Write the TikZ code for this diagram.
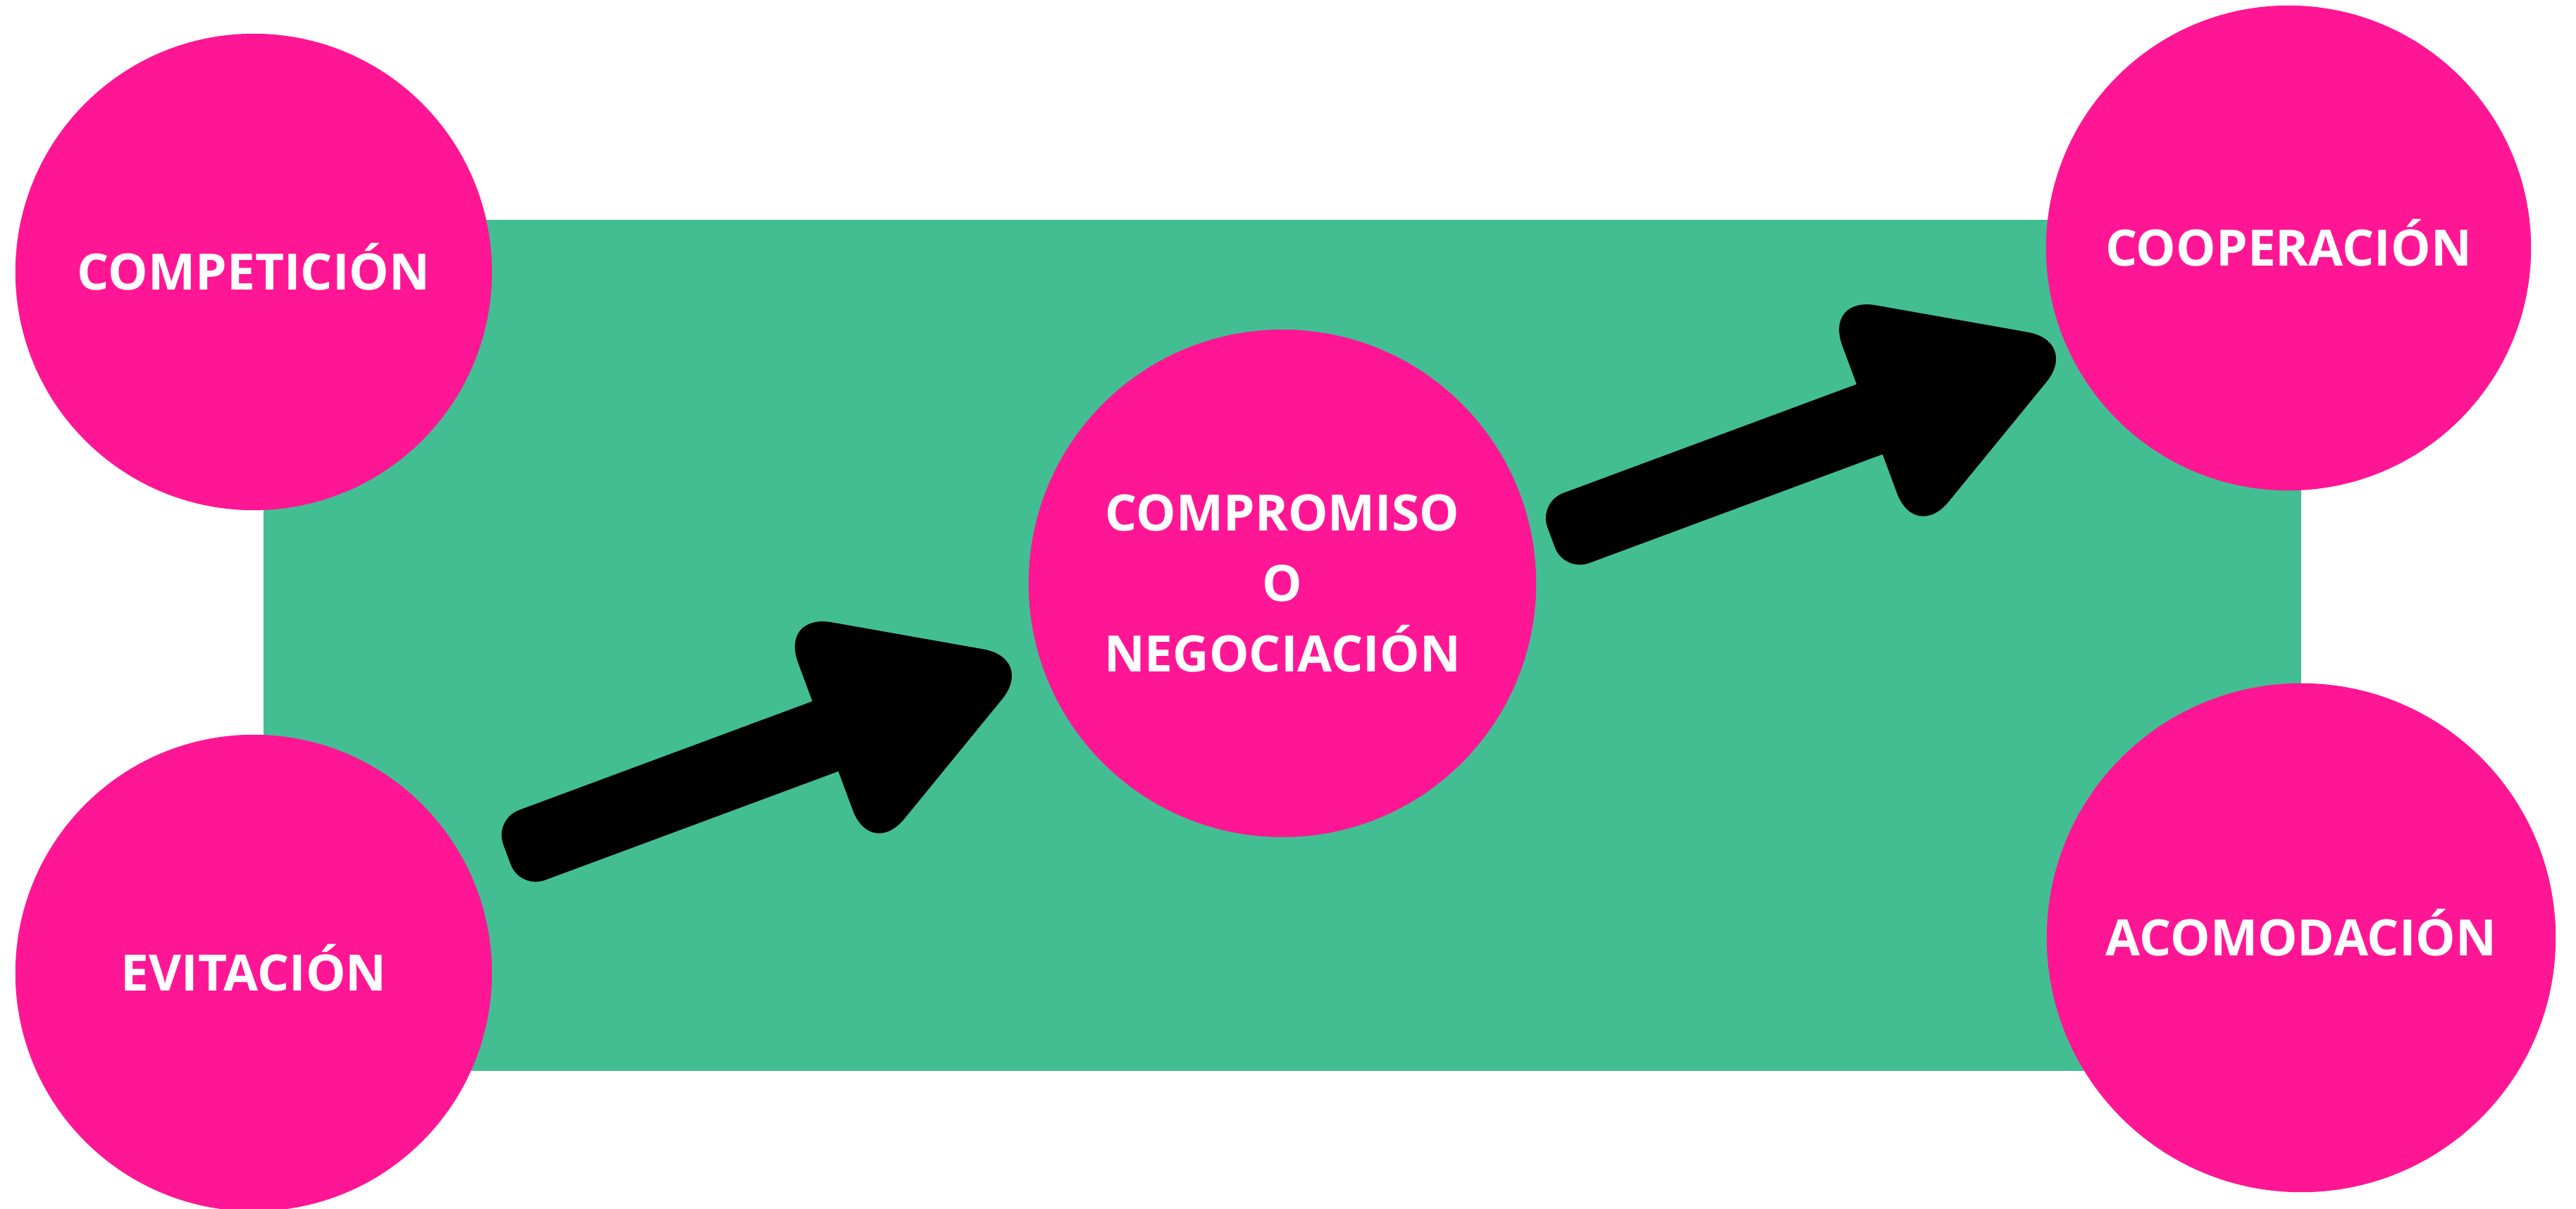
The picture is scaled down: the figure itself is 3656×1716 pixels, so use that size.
\documentclass[tikz,border=0pt]{standalone}
\usepackage{fontspec}
\setmainfont{Open Sans}
\definecolor{pinkc}{RGB}{255,22,148}
\definecolor{greenc}{RGB}{67,190,147}
\tikzset{
  bubble/.style={circle, fill=pinkc, inner sep=0pt, text=white,
    font=\bfseries\fontsize{20.24pt}{28.45pt}\selectfont, align=center,
    text height=0.51cm, text depth=0pt},
  blockarrow/.style={fill=black},
}
\begin{document}
\begin{tikzpicture}[x=0.01cm,y=0.01cm]
\useasboundingbox (0,0) rectangle (3656,-1716);
\fill[greenc] (374,-312) rectangle (3266,-1520);
\node[bubble, minimum size=6.76cm] (comp) at (360,-386) {COMPETICIÓN};
\node[bubble, minimum size=6.76cm] (evit) at (360,-1381) {EVITACIÓN};
\node[bubble, minimum size=7.2cm, text height=2.51cm] (nego) at (1820,-828) {COMPROMISO\\O\\NEGOCIACIÓN};
\node[bubble, minimum size=6.88cm] (coop) at (3248,-352) {COOPERACIÓN};
\node[bubble, minimum size=7.22cm] (acom) at (3266,-1331) {ACOMODACIÓN};
\coordinate (a1) at (719.5,-1212.7);
\coordinate (a2) at (2201.5,-762.7);
\foreach \c in {a1,a2}{
\begin{scope}[shift={(\c)}, rotate=20.35]
  \fill[blockarrow, rounded corners=0.38cm] (0,-53) rectangle (560,53);
  \fill[blockarrow, rounded corners=0.75cm] (482,186.5) -- (800,0) -- (482,-186.5) -- cycle;
\end{scope}
}
\end{tikzpicture}
\end{document}
